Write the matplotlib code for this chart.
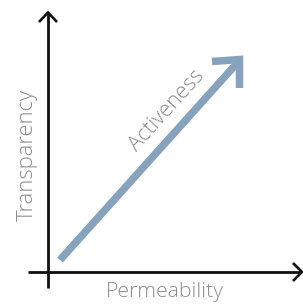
import matplotlib
matplotlib.use("Agg")
import matplotlib.pyplot as plt
from matplotlib.lines import Line2D

# Content
x_label = "Permeability"
y_label = "Transparency"
arrow_label = "Activeness"

W, H = 303, 304
DPI = 100
fig = plt.figure(figsize=(W / DPI, H / DPI), dpi=DPI)
ax = fig.add_axes([0, 0, 1, 1])
ax.set_xlim(0, W)
ax.set_ylim(H, 0)
ax.axis("off")

px = 72 / DPI  # points per pixel

axis_color = "#111111"
text_color = "#8c8c8c"
arrow_color = "#87a2bd"
font = ["Open Sans", "DejaVu Sans"]

# Axes lines
ax.add_line(Line2D([48, 48], [288, 13], lw=2.8 * px, color=axis_color, solid_capstyle="butt"))
ax.add_line(Line2D([39, 48, 57], [22, 12.5, 22], lw=2.6 * px, color=axis_color,
                   solid_joinstyle="miter", solid_capstyle="butt"))
ax.add_line(Line2D([28, 301], [272, 272], lw=2.8 * px, color=axis_color, solid_capstyle="butt"))
ax.add_line(Line2D([293, 302, 293], [263, 272, 281], lw=2.6 * px, color=axis_color,
                   solid_joinstyle="miter", solid_capstyle="butt"))

# Big diagonal arrow
ax.add_line(Line2D([60, 238], [260, 62], lw=7.5 * px, color=arrow_color, solid_capstyle="butt"))
ax.add_line(Line2D([212, 239.5, 239.5], [61.5, 59.5, 88], lw=7.5 * px, color=arrow_color,
                   solid_joinstyle="miter", solid_capstyle="butt"))

# Texts
ax.text(165, 292, x_label, ha="center", va="center", fontsize=15.3, color=text_color,
        family=font, fontweight="light")
ax.text(27, 155, y_label, ha="center", va="center", rotation=90, fontsize=15.8,
        color=text_color, family=font, fontweight="light")
ax.text(167, 111, arrow_label, ha="center", va="center", rotation=48, fontsize=15.5,
        color=text_color, family=font, fontweight="light", rotation_mode="anchor")

fig.savefig("out.png", dpi=DPI)
